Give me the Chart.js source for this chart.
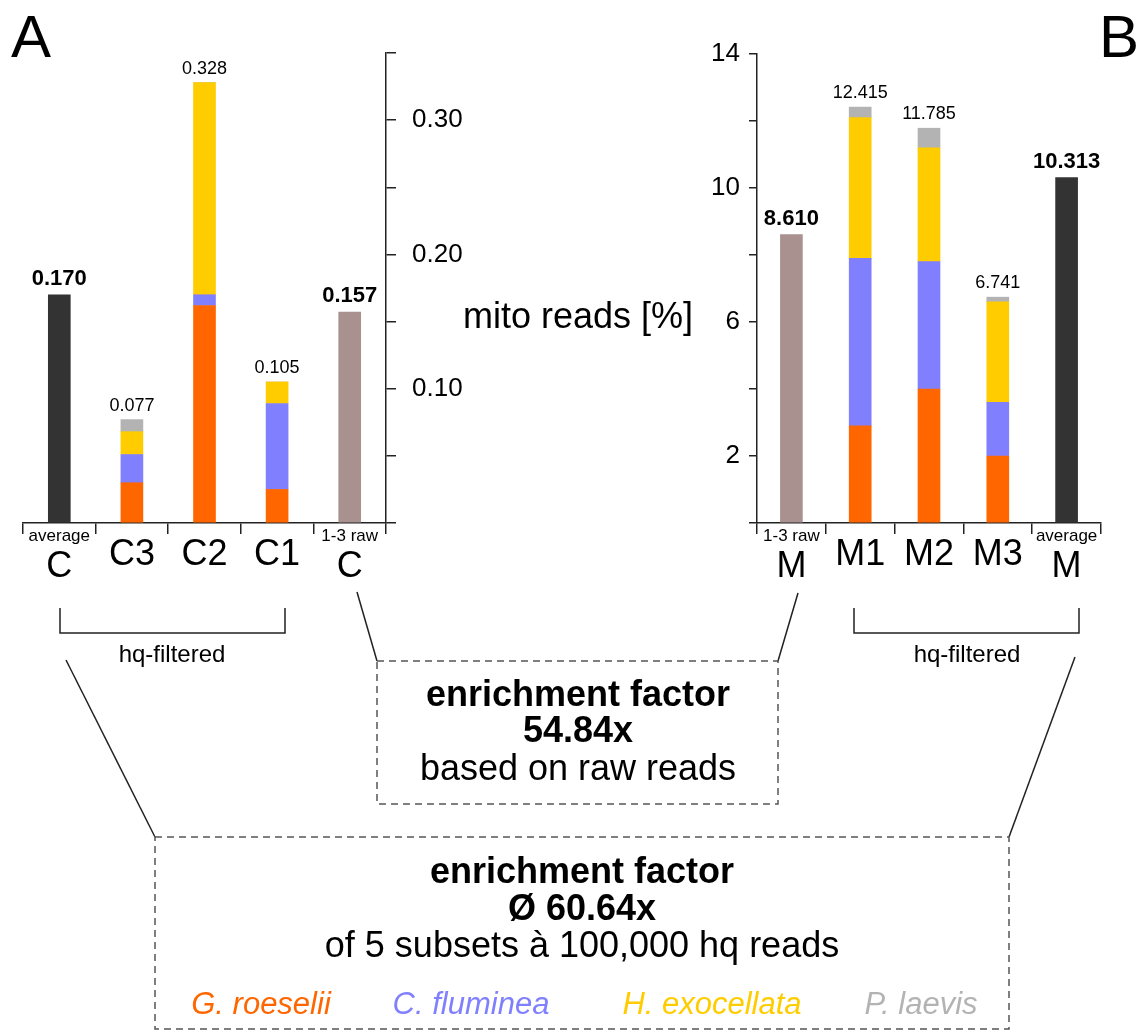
<!DOCTYPE html>
<html>
<head>
<meta charset="utf-8">
<script src="https://cdn.jsdelivr.net/npm/chart.js@4/dist/chart.umd.min.js"></script>
<style>
  body { margin: 0; background: #fff; }
  #fig { position: relative; width: 1141px; height: 1032px; overflow: hidden;
         font-family: "Liberation Sans", Arial, sans-serif; color: #000; }
  canvas { position: absolute; top: 0; }
  #chartC { left: 0; }
  #chartM { left: 620px; }
  svg { position: absolute; left: 0; top: 0; }
  .t { position: absolute; white-space: nowrap; line-height: 1; transform: translate(-50%, -50%); }
  .b { font-weight: bold; }
  .i { font-style: italic; }
</style>
</head>
<body>
<div id="fig">
  <canvas id="chartC" width="520" height="600"></canvas>
  <canvas id="chartM" width="521" height="600"></canvas>

  <svg width="1141" height="1032">
    <g fill="none" stroke="#222" stroke-width="1.5">
      <path d="M60 608 V633 H285 V608"/>
      <path d="M854 608 V633 H1079 V608"/>
      <line x1="357" y1="592" x2="377" y2="661"/>
      <line x1="798" y1="593" x2="778" y2="661"/>
      <line x1="66" y1="660" x2="155" y2="837"/>
      <line x1="1075" y1="657" x2="1009" y2="837"/>
    </g>
    <g fill="none" stroke="#555" stroke-width="1.5" stroke-dasharray="7 5">
      <rect x="377" y="661" width="401" height="143"/>
      <rect x="155" y="837" width="854" height="192"/>
    </g>
  </svg>

  <div class="t" style="left:31px;top:37px;font-size:60px">A</div>
  <div class="t" style="left:1119px;top:37px;font-size:60px">B</div>
  <div class="t" style="left:578px;top:316px;font-size:36px">mito reads [%]</div>

  <div class="t" style="left:172px;top:654px;font-size:24px">hq-filtered</div>
  <div class="t" style="left:967px;top:654px;font-size:24px">hq-filtered</div>

  <div class="t b" style="left:578px;top:694px;font-size:36px">enrichment factor</div>
  <div class="t b" style="left:578px;top:730px;font-size:36px">54.84x</div>
  <div class="t" style="left:578px;top:768px;font-size:36px">based on raw reads</div>

  <div class="t b" style="left:582px;top:871px;font-size:36px">enrichment factor</div>
  <div class="t b" style="left:582px;top:908px;font-size:36px">Ø 60.64x</div>
  <div class="t" style="left:582px;top:945px;font-size:36px">of 5 subsets à 100,000 hq reads</div>
  <div id="legend"></div>
</div>

<script>
// panel A: mito reads [%] in C samples
const cMain = ['C', 'C3', 'C2', 'C1', 'C'];
const cSub = ['average', '', '', '', '1-3 raw'];
const cRoeselii = [null, 0.030, 0.162, 0.025, null];
const cFluminea = [null, 0.021, 0.008, 0.064, null];
const cExocellata = [null, 0.017, 0.158, 0.016, null];
const cLaevis = [null, 0.009, 0, 0, null];
const cSingle = [0.170, null, null, null, 0.157];
const cTotals = [0.170, 0.077, 0.328, 0.105, 0.157];
const cTickLabels = ['0.10', '0.20', '0.30'];

// panel B: mito reads [%] in M samples
const mMain = ['M', 'M1', 'M2', 'M3', 'M'];
const mSub = ['1-3 raw', '', '', '', 'average'];
const mRoeselii = [null, 2.9, 4.0, 2.0, null];
const mFluminea = [null, 5.0, 3.8, 1.6, null];
const mExocellata = [null, 4.2, 3.4, 3.0, null];
const mLaevis = [null, 0.315, 0.585, 0.141, null];
const mSingle = [8.610, null, null, null, 10.313];
const mTotals = [8.610, 12.415, 11.785, 6.741, 10.313];
const mTickLabels = ['2', '6', '10', '14'];

const species = ['G. roeselii', 'C. fluminea', 'H. exocellata', 'P. laevis'];

const FONT = '"Liberation Sans", Arial, sans-serif';
const AXIS = '#222';
const speciesColors = ['#ff6600', '#8080ff', '#ffcc00', '#b3b3b3'];
const singleColors = { 'average': '#333333', '1-3 raw': '#a8918f' };

// totals above bars + two-line category labels under the axis
const barText = {
  id: 'barText',
  afterDraw(chart, args, o) {
    const { ctx, scales: { x, y } } = chart;
    const base = y.getPixelForValue(0);
    ctx.save();
    ctx.fillStyle = '#000';
    ctx.textAlign = 'center';
    o.totals.forEach((v, i) => {
      const px = x.getPixelForValue(i);
      const solid = o.single[i] != null;
      ctx.textBaseline = 'alphabetic';
      ctx.font = (solid ? 'bold 22px ' : '18px ') + FONT;
      ctx.fillText(v.toFixed(3), px, y.getPixelForValue(v) - (solid ? 10 : 9));

      ctx.textBaseline = 'middle';
      if (o.sub[i]) {
        ctx.font = '17px ' + FONT;
        ctx.fillText(o.sub[i], px, base + 13);
      }
      ctx.font = '36px ' + FONT;
      ctx.fillText(o.main[i], px, base + (o.sub[i] ? 44 : 32));
    });
    ctx.restore();
  }
};

function makeChart(id, d) {
  const series = [d.roeselii, d.fluminea, d.exocellata, d.laevis];
  const datasets = series.map((data, k) => ({
    label: species[k], data, backgroundColor: speciesColors[k]
  }));
  datasets.push({
    label: 'total', data: d.single,
    backgroundColor: d.sub.map(s => singleColors[s] || '#333333')
  });
  datasets.forEach(ds => Object.assign(ds, { stack: 's', barThickness: 22, borderWidth: 0 }));

  return new Chart(document.getElementById(id), {
    type: 'bar',
    data: { labels: d.main, datasets },
    options: {
      responsive: false,
      animation: false,
      layout: { padding: d.padding },
      plugins: {
        legend: { display: false },
        tooltip: { enabled: false },
        barText: { totals: d.totals, single: d.single, main: d.main, sub: d.sub }
      },
      scales: {
        x: {
          stacked: true,
          offset: true,
          grid: { offset: true, drawOnChartArea: false, drawTicks: true, tickLength: 11, color: AXIS, lineWidth: 1.5 },
          border: { display: true, color: AXIS, width: 1.5 },
          ticks: { display: false },
          afterFit: s => { s.height = 77; }
        },
        y: {
          stacked: true,
          position: d.yPos,
          min: 0,
          max: d.max,
          grid: { drawOnChartArea: false, drawTicks: true, tickLength: d.tickLen, color: AXIS, lineWidth: 1.5 },
          border: { display: true, color: AXIS, width: 1.5 },
          ticks: {
            stepSize: d.step,
            autoSkip: false,
            padding: d.tickPad,
            color: '#000',
            font: { family: FONT, size: 26 },
            callback: v => {
              const s = v.toFixed(d.dec);
              return d.tickLabels.includes(s) ? s : '';
            }
          },
          afterFit: s => { s.width = d.yW; }
        }
      }
    },
    plugins: [barText]
  });
}

makeChart('chartC', {
  main: cMain, sub: cSub, roeselii: cRoeselii, fluminea: cFluminea,
  exocellata: cExocellata, laevis: cLaevis, single: cSingle, totals: cTotals,
  tickLabels: cTickLabels, dec: 2, max: 0.35, step: 0.05,
  yPos: 'right', yW: 134, tickLen: 10, tickPad: 16,
  padding: { left: 23, top: 53, right: 0, bottom: 0 }
});

makeChart('chartM', {
  main: mMain, sub: mSub, roeselii: mRoeselii, fluminea: mFluminea,
  exocellata: mExocellata, laevis: mLaevis, single: mSingle, totals: mTotals,
  tickLabels: mTickLabels, dec: 0, max: 14, step: 2,
  yPos: 'left', yW: 137, tickLen: 8, tickPad: 9,
  padding: { left: 0, top: 54, right: 40, bottom: 0 }
});

// species legend inside the lower box
const legendX = [261, 471, 712, 921];
const legend = document.getElementById('legend');
species.forEach((name, k) => {
  const el = document.createElement('div');
  el.className = 't i';
  el.style.cssText = `left:${legendX[k]}px;top:1003px;font-size:31px;color:${speciesColors[k]}`;
  el.textContent = name;
  legend.appendChild(el);
});
</script>
</body>
</html>
